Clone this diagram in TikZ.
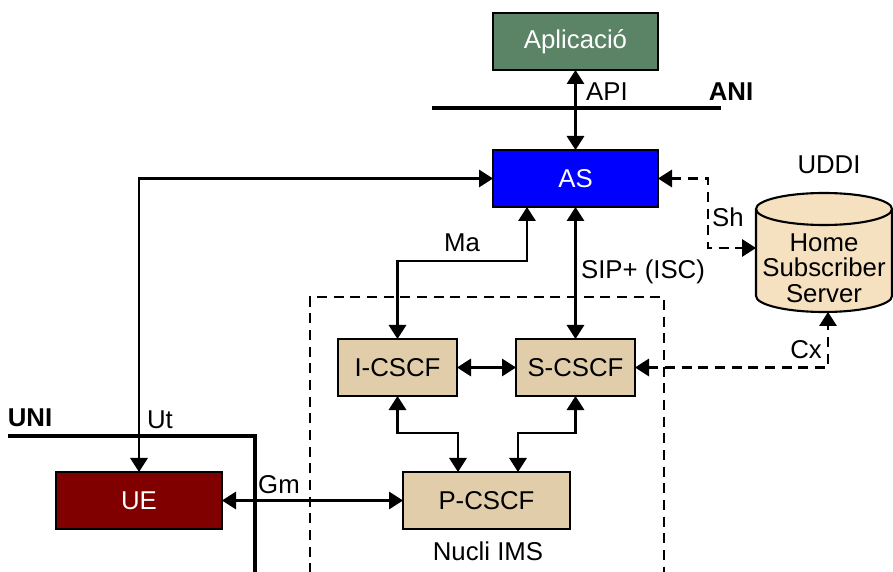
\documentclass[tikz,border=0pt]{standalone}
\usepackage{fontspec}
\setmainfont{Liberation Sans}
\usetikzlibrary{arrows.meta,calc}
\definecolor{appgreen}{HTML}{5B8366}
\definecolor{asblue}{HTML}{0000FF}
\definecolor{uered}{HTML}{800000}
\definecolor{cscftan}{HTML}{E1CDA9}
\definecolor{hsstan}{HTML}{F5E0C0}
\begin{document}
\begin{tikzpicture}[x=0.03cm,y=-0.03cm,
  font=\fontsize{22}{21.8}\selectfont,
  box/.style={draw=black,line width=1.8pt,minimum height=1.71cm,inner sep=0pt,outer sep=0pt},
  conn/.style={line width=1.8pt,{Triangle[length=0.42cm,width=0.52cm]}-{Triangle[length=0.42cm,width=0.52cm]}},
  dsh/.style={dash pattern=on 0.3cm off 0.2cm},
  thickline/.style={line width=4pt},
  lbl/.style={inner sep=0pt,outer sep=0pt}]
\useasboundingbox (0,0) rectangle (893,572);
% dashed IMS core frame
\draw[line width=1.8pt,dsh] (310,590) |- (664,297) -- (664,590);
% boundary lines
\draw[thickline] (432,108) -- (721,108);
\draw[thickline] (8,436) -| (255,590);
% boxes
\node[box,fill=appgreen,text=white,minimum width=4.95cm] (app) at (575.5,41.5) {Aplicació};
\node[box,fill=asblue,text=white,minimum width=4.95cm] (as) at (575.5,178.5) {AS};
\node[box,fill=cscftan,minimum width=3.57cm] (icscf) at (397.5,367.5) {I-CSCF};
\node[box,fill=cscftan,minimum width=3.57cm] (scscf) at (575.5,367.5) {S-CSCF};
\node[box,fill=cscftan,minimum width=5.01cm] (pcscf) at (486.5,500.5) {P-CSCF};
\node[box,fill=uered,text=white,minimum width=4.98cm] (ue) at (139,500.5) {UE};
% HSS cylinder
\filldraw[fill=hsstan,draw=black,line width=1.8pt]
  (756,209) -- (756,296) arc[start angle=180,end angle=0,x radius=68,y radius=16]
  -- (892,209) arc[start angle=360,end angle=180,x radius=68,y radius=16] -- cycle;
\draw[line width=1.8pt] (756,209) arc[start angle=180,end angle=0,x radius=68,y radius=16];
\node[lbl,align=center] (hss) at (824,268) {Home\\Subscriber\\Server};
\coordinate (hssW) at (756,248);
\coordinate (hssS) at (828,312);
% connectors
\draw[conn] (as.north) -- (app.south);
\draw[conn] (as.west) -| (ue.north);
\draw[conn] ($(as.south)+(-48.5,0)$) -- ++(0,54) -| (icscf.north);
\draw[conn] (as.south) -- (scscf.north);
\draw[conn] (icscf.east) -- (scscf.west);
\draw[conn] (icscf.south) -- ++(0,37) -| ($(pcscf.north)+(-28.5,0)$);
\draw[conn] (scscf.south) -- ++(0,37) -| ($(pcscf.north)+(31.5,0)$);
\draw[conn] (ue.east) -- (pcscf.west);
\draw[conn,dsh] (as.east) -- ++(50,0) |- (hssW);
\draw[conn,dsh] (scscf.east) -| (hssS);
% labels
\node[lbl] (lapi) at (607,92) {API};
\node[lbl,font=\fontsize{22}{21.8}\selectfont\bfseries] (lani) at (731,92) {ANI};
\node[lbl] (luddi) at (829,165) {UDDI};
\node[lbl] (lsh) at (728,217) {Sh};
\node[lbl] (lma) at (462,243) {Ma};
\node[lbl] (lsip) at (643,272) {SIP+ (ISC)};
\node[lbl] (lcx) at (806,350) {Cx};
\node[lbl,font=\fontsize{22}{21.8}\selectfont\bfseries] (luni) at (30,418) {UNI};
\node[lbl] (lut) at (160,420) {Ut};
\node[lbl] (lgm) at (279,485) {Gm};
\node[lbl] (lims) at (488,551) {Nucli IMS};
\end{tikzpicture}
\end{document}
